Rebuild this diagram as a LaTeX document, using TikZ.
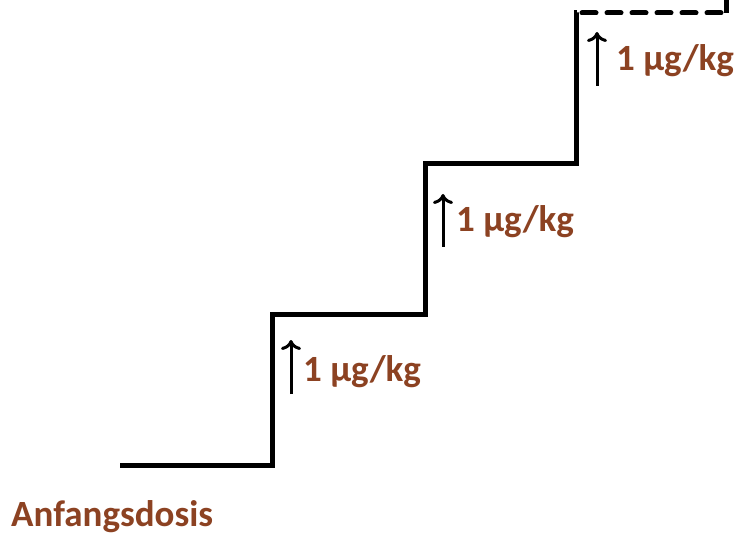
\documentclass[tikz,border=0pt]{standalone}
\usepackage{fontspec}
\setmainfont{Carlito}
\usetikzlibrary{arrows.meta}
\definecolor{dosebrown}{RGB}{140,66,34}
\tikzset{
  stair/.style={line width=5bp, line join=miter},
  dashstair/.style={line width=5bp, dash pattern=on 14bp off 11bp, line cap=round},
  uparrow/.style={line width=3bp, -{To[length=10bp,width=20bp,line width=3bp]}},
  dose/.style={font=\bfseries\fontsize{37bp}{40bp}\selectfont, text=dosebrown, inner sep=0pt, anchor=west},
}
\begin{document}
\begin{tikzpicture}[x=1bp,y=-1bp]
\useasboundingbox (0,0) rectangle (737,535);
\coordinate (s0) at (120,465);
\coordinate (s1) at (272,465);
\coordinate (s2) at (272,314);
\coordinate (s3) at (425,314);
\coordinate (s4) at (425,164);
\coordinate (s5) at (576,164);
\coordinate (s6) at (576,13);
\coordinate (s7) at (726,13);
\coordinate (s8) at (726,0);
\draw[stair] (s0) -- (s1) -- (s2) -- (s3) -- (s4) -- (s5) -- (s6) -- (577,13);
\draw[dashstair] (582,13) -- (s7);
\draw[line width=5bp] (s7) -- (s8);

\coordinate (a1b) at (291,394);
\coordinate (a1t) at (291,340);
\coordinate (a2b) at (443,247);
\coordinate (a2t) at (443,194);
\coordinate (a3b) at (597,86);
\coordinate (a3t) at (597,32);
\draw[uparrow] (a1b) -- (a1t);
\draw[uparrow] (a2b) -- (a2t);
\draw[uparrow] (a3b) -- (a3t);

\node[dose] (t1) at (303,372) {1 µg/kg};
\node[dose] (t2) at (456,222) {1 µg/kg};
\node[dose] (t3) at (616,61) {1 µg/kg};
\node[dose] (t0) at (11,517) {Anfangsdosis};
\end{tikzpicture}
\end{document}
